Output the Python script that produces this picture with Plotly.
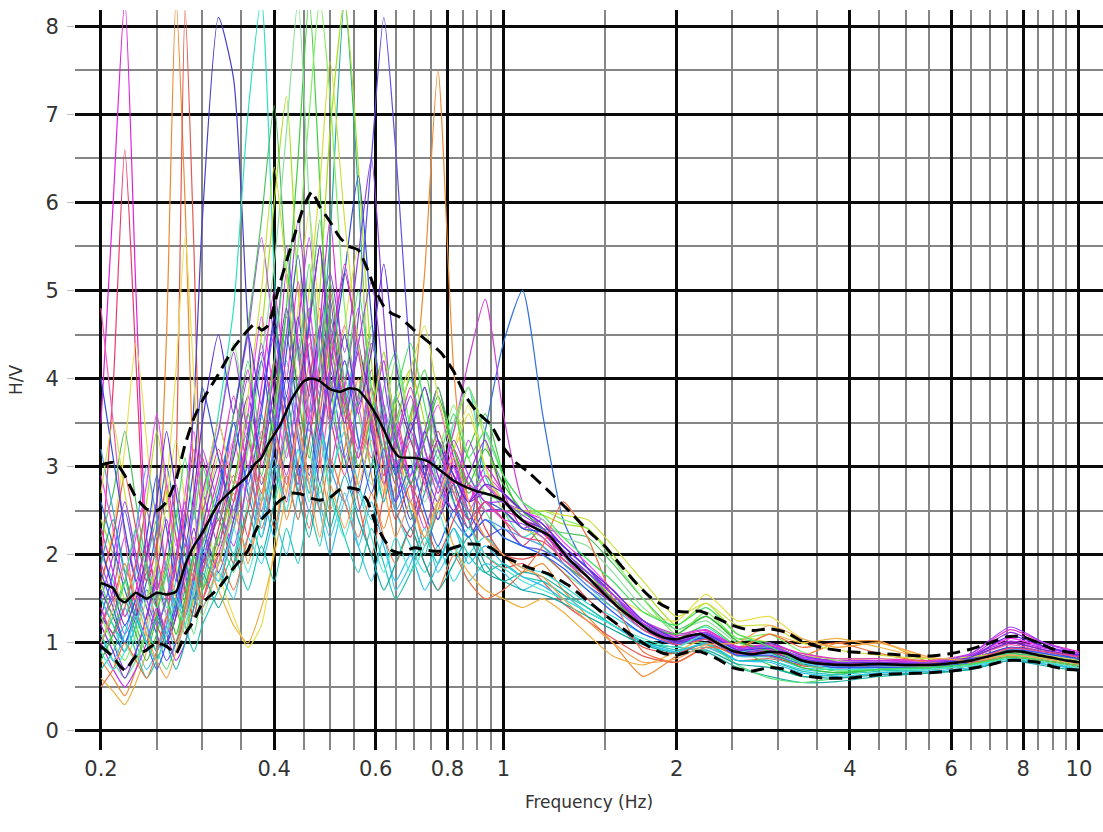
import plotly.graph_objects as go

# ---------------- H/V curves of the individual time windows ----------------
freq_win = [0.20, 0.21, 0.22, 0.23, 0.24, 0.25, 0.26, 0.27, 0.28, 0.29, 0.30,
            0.32, 0.34, 0.36, 0.38, 0.40, 0.42, 0.44, 0.46, 0.48, 0.50,
            0.53, 0.56, 0.59, 0.62, 0.65, 0.69, 0.73, 0.77, 0.82, 0.87, 0.93, 1.0,
            1.08, 1.17, 1.27, 1.4, 1.55, 1.75, 2.0,
            2.25, 2.55, 2.9, 3.3, 3.8, 4.5, 5.5, 6.5, 7.6, 8.7, 10.0]

win01 = [3.5, 6.0, 8.3, 5.0, 2.2, 1.6, 1.9, 1.4, 1.8, 2.6, 3.1, 2.4, 3.3, 4.1, 3.0, 3.6, 5.2, 4.4, 3.5, 4.6, 5.8, 3.9, 3.2, 4.1, 3.0, 2.6, 3.4, 2.9, 2.4, 3.1, 2.6, 3.0, 2.7, 2.3, 2.4, 2.0, 1.8, 1.55, 1.2, 1.05, 1.12, 0.92, 0.95, 0.82, 0.78, 0.8, 0.78, 0.84, 1.0, 0.92, 0.85]
win02 = [1.8, 3.9, 6.6, 4.2, 1.9, 1.2, 1.0, 1.3, 2.1, 1.7, 1.5, 2.3, 2.9, 2.2, 3.1, 4.0, 3.4, 2.8, 3.9, 4.8, 3.6, 2.9, 3.8, 4.5, 3.3, 2.5, 2.2, 2.9, 3.4, 2.8, 2.3, 2.6, 2.4, 2.1, 2.3, 1.9, 1.7, 1.45, 1.15, 1.0, 1.05, 0.88, 0.9, 0.78, 0.74, 0.75, 0.74, 0.8, 0.92, 0.86, 0.8]
win03 = [0.8, 0.6, 0.4, 0.7, 1.2, 2.0, 4.5, 8.3, 6.0, 2.8, 1.6, 2.1, 2.7, 1.9, 2.6, 3.3, 2.4, 3.0, 4.2, 3.1, 2.5, 3.2, 4.0, 2.9, 2.3, 2.8, 3.5, 5.2, 7.5, 4.1, 2.6, 2.2, 2.0, 1.8, 1.9, 1.6, 1.3, 1.0, 0.62, 0.85, 1.0, 0.85, 0.9, 0.85, 1.0, 1.02, 0.78, 0.76, 0.86, 0.82, 0.76]
win04 = [1.2, 1.5, 1.9, 1.4, 1.0, 0.8, 1.2, 3.0, 8.2, 5.5, 2.5, 1.6, 2.4, 3.0, 2.3, 2.9, 3.8, 2.9, 2.3, 3.1, 4.3, 3.6, 2.6, 2.0, 2.7, 3.6, 2.8, 2.1, 2.5, 3.0, 2.4, 2.0, 1.85, 1.9, 1.7, 1.45, 1.25, 1.05, 0.85, 0.78, 0.95, 0.8, 0.82, 0.75, 0.72, 0.72, 0.7, 0.74, 0.82, 0.78, 0.72]
win05 = [1.3, 1.1, 0.9, 1.2, 1.6, 1.4, 1.1, 1.5, 2.4, 3.7, 5.8, 8.1, 7.4, 4.6, 2.8, 3.4, 4.5, 3.6, 2.9, 3.8, 4.9, 3.4, 2.7, 3.5, 4.2, 3.1, 2.4, 2.9, 3.3, 2.6, 2.2, 2.5, 2.5, 2.3, 2.2, 1.95, 1.75, 1.5, 1.2, 1.02, 1.1, 0.9, 0.92, 0.8, 0.75, 0.74, 0.74, 0.8, 0.9, 0.85, 0.78]
win06 = [2.0, 1.7, 1.3, 1.8, 2.5, 1.9, 1.4, 1.7, 2.2, 1.8, 2.4, 3.6, 4.8, 7.0, 8.3, 5.2, 3.1, 3.9, 4.8, 3.5, 2.8, 3.7, 4.4, 3.2, 2.6, 3.4, 4.0, 3.2, 2.7, 3.5, 3.9, 2.9, 2.5, 2.2, 2.3, 2.0, 1.7, 1.5, 1.25, 1.08, 1.18, 0.95, 0.96, 0.84, 0.8, 0.78, 0.78, 0.82, 0.94, 0.88, 0.82]
win07 = [1.0, 1.3, 1.7, 1.2, 0.9, 1.3, 1.8, 1.4, 1.1, 1.6, 2.2, 1.9, 2.8, 3.4, 2.6, 3.5, 4.8, 6.5, 8.3, 6.2, 4.0, 3.0, 3.8, 4.6, 3.5, 2.8, 3.6, 4.1, 3.3, 2.7, 3.2, 3.6, 2.9, 2.4, 2.1, 1.9, 1.7, 1.45, 1.25, 1.05, 1.2, 0.95, 0.75, 0.62, 0.64, 0.7, 0.74, 0.78, 0.86, 0.8, 0.74]
win08 = [1.5, 1.2, 1.0, 1.4, 1.9, 2.4, 1.8, 1.3, 1.6, 2.0, 1.7, 2.5, 2.0, 2.9, 3.6, 2.8, 3.4, 4.4, 3.6, 4.2, 5.6, 8.3, 6.1, 3.5, 2.6, 3.1, 2.5, 2.0, 2.6, 3.0, 2.4, 1.9, 1.7, 1.8, 1.75, 1.6, 1.4, 1.2, 1.0, 0.95, 0.9, 0.72, 0.62, 0.55, 0.56, 0.62, 0.66, 0.7, 0.8, 0.76, 0.7]
win09 = [2.4, 2.0, 1.5, 1.9, 2.6, 3.4, 2.7, 1.9, 1.4, 1.8, 2.3, 3.1, 2.3, 3.2, 4.5, 6.0, 7.2, 5.0, 3.8, 5.0, 6.8, 8.3, 6.4, 4.2, 3.1, 3.7, 4.1, 3.5, 2.8, 3.4, 3.9, 3.3, 2.7, 2.5, 2.45, 2.35, 2.3, 2.0, 1.6, 1.2, 1.45, 1.1, 1.0, 0.86, 0.82, 0.82, 0.8, 0.84, 0.92, 0.86, 0.8]
win10 = [1.6, 2.3, 3.2, 4.4, 3.3, 2.2, 2.8, 4.1, 5.6, 4.0, 2.6, 1.8, 1.3, 0.95, 1.2, 2.1, 3.5, 4.8, 5.9, 4.6, 3.5, 4.6, 5.5, 3.8, 2.9, 3.3, 3.9, 3.0, 2.5, 3.2, 3.7, 3.0, 2.5, 2.3, 2.2, 1.95, 1.75, 1.55, 1.35, 1.25, 1.55, 1.25, 1.3, 1.05, 0.95, 1.0, 0.82, 0.82, 0.88, 0.83, 0.77]
win11 = [1.4, 1.0, 0.7, 0.9, 1.3, 1.7, 1.3, 1.0, 1.4, 2.0, 2.7, 2.1, 3.2, 4.0, 3.1, 4.2, 5.5, 4.3, 3.4, 4.5, 5.2, 4.3, 5.4, 6.5, 4.7, 3.3, 2.9, 3.4, 3.9, 3.1, 2.6, 2.9, 2.6, 2.4, 2.25, 2.0, 1.8, 1.55, 1.2, 1.02, 1.08, 0.9, 0.9, 0.8, 0.77, 0.77, 0.76, 0.82, 0.95, 0.9, 0.82]
win12 = [2.6, 2.1, 1.6, 1.3, 1.7, 2.3, 3.0, 2.4, 1.8, 1.4, 1.9, 2.6, 3.5, 2.7, 2.2, 2.9, 3.8, 3.0, 2.5, 3.3, 4.0, 3.1, 2.5, 3.0, 3.7, 2.9, 2.3, 2.7, 3.2, 2.6, 2.3, 3.4, 4.4, 5.0, 3.6, 2.4, 1.85, 1.55, 1.25, 1.05, 1.12, 0.92, 0.95, 0.82, 0.76, 0.74, 0.75, 0.8, 0.9, 0.86, 0.8]
win13 = [1.2, 1.6, 2.2, 1.7, 1.2, 0.9, 1.3, 1.9, 2.5, 1.9, 1.5, 2.0, 2.6, 3.3, 2.5, 3.1, 2.6, 3.5, 4.4, 3.6, 3.0, 3.9, 4.8, 3.6, 2.9, 3.5, 2.8, 2.3, 2.8, 3.4, 4.2, 4.9, 3.6, 2.6, 2.3, 2.05, 1.8, 1.55, 1.25, 1.1, 1.15, 0.95, 0.95, 0.84, 0.8, 0.8, 0.8, 0.86, 1.05, 0.95, 0.88]
win14 = [0.9, 1.1, 1.4, 1.0, 0.7, 0.9, 1.2, 0.9, 1.3, 1.7, 1.4, 1.8, 1.5, 2.2, 1.9, 2.4, 2.0, 2.7, 3.3, 2.6, 2.2, 2.7, 2.1, 1.7, 2.2, 1.6, 1.9, 2.3, 1.8, 2.1, 1.7, 1.9, 1.8, 1.6, 1.7, 1.55, 1.35, 1.2, 1.0, 0.9, 0.95, 0.8, 0.8, 0.7, 0.66, 0.7, 0.72, 0.74, 0.82, 0.78, 0.72]
win15 = [1.1, 0.8, 0.6, 0.8, 1.1, 0.9, 0.7, 1.0, 1.4, 1.1, 1.6, 2.2, 1.8, 2.6, 3.3, 2.6, 3.2, 4.0, 3.2, 2.7, 3.4, 4.5, 3.6, 3.0, 3.9, 4.3, 3.4, 2.7, 3.1, 2.6, 2.9, 2.5, 2.2, 2.1, 2.0, 1.8, 1.6, 1.4, 1.2, 1.0, 1.0, 0.75, 0.6, 0.55, 0.6, 0.66, 0.7, 0.74, 0.84, 0.8, 0.74]
win16 = [1.9, 1.5, 1.1, 1.4, 1.9, 1.5, 1.1, 1.4, 1.9, 2.5, 3.2, 2.6, 3.6, 4.5, 5.6, 4.4, 3.3, 2.8, 3.6, 4.5, 3.7, 3.1, 3.7, 4.5, 3.6, 3.0, 2.6, 3.1, 2.8, 2.5, 2.8, 2.6, 2.4, 2.35, 2.2, 1.95, 1.75, 1.5, 1.2, 1.03, 1.07, 0.92, 0.92, 0.8, 0.76, 0.76, 0.75, 0.82, 0.94, 0.88, 0.8]
win17 = [1.3, 1.8, 2.5, 1.9, 1.4, 1.1, 0.8, 1.0, 1.3, 1.8, 2.3, 1.8, 2.4, 3.0, 2.4, 3.2, 4.0, 3.3, 2.7, 3.4, 4.1, 3.5, 4.7, 6.5, 8.1, 6.6, 4.2, 3.0, 2.6, 3.0, 2.5, 2.2, 2.3, 2.1, 2.05, 1.9, 1.65, 1.45, 1.15, 1.0, 1.05, 0.88, 0.9, 0.78, 0.74, 0.74, 0.74, 0.8, 0.9, 0.85, 0.78]
win18 = [4.8, 3.5, 2.2, 1.5, 1.9, 2.6, 1.8, 1.3, 1.7, 2.2, 1.8, 2.6, 3.3, 2.6, 3.4, 2.8, 3.6, 4.5, 3.6, 3.0, 3.8, 4.6, 3.7, 3.1, 3.6, 3.0, 3.5, 2.8, 2.4, 2.9, 2.5, 2.8, 2.6, 2.4, 2.3, 2.0, 1.75, 1.5, 1.2, 1.05, 1.1, 0.92, 0.93, 0.82, 0.78, 0.78, 0.77, 0.84, 0.98, 0.9, 0.84]
win19 = [1.5, 1.2, 0.9, 1.2, 1.6, 1.2, 1.5, 2.0, 1.6, 1.3, 1.8, 2.4, 2.0, 2.8, 2.2, 3.0, 2.5, 3.2, 2.7, 3.5, 2.9, 3.4, 2.8, 2.4, 3.0, 2.5, 2.1, 1.8, 2.1, 1.7, 2.0, 2.2, 2.0, 1.85, 1.8, 1.65, 1.45, 1.3, 1.1, 0.98, 1.05, 0.85, 0.84, 0.72, 0.7, 0.72, 0.73, 0.78, 0.88, 0.82, 0.76]
win20 = [0.6, 0.45, 0.3, 0.55, 0.9, 1.4, 2.0, 1.5, 1.1, 1.5, 2.0, 1.6, 1.2, 1.0, 1.4, 2.0, 2.7, 3.4, 2.8, 3.6, 4.4, 3.4, 2.8, 3.3, 2.7, 3.2, 2.6, 2.2, 2.6, 2.1, 1.8, 1.6, 1.5, 1.4, 1.5, 1.35, 1.1, 0.85, 0.75, 0.9, 1.05, 0.95, 1.1, 1.0, 1.05, 0.95, 0.82, 0.8, 0.86, 0.8, 0.74]
win21 = [2.2, 2.7, 3.4, 2.6, 1.9, 1.5, 1.9, 2.5, 2.0, 1.6, 2.1, 2.8, 3.6, 4.6, 5.8, 7.1, 5.2, 3.9, 4.7, 5.8, 4.5, 3.6, 4.3, 3.5, 2.9, 3.5, 4.0, 3.3, 3.9, 3.2, 2.7, 2.9, 2.6, 2.4, 2.3, 2.25, 2.2, 1.9, 1.5, 1.15, 1.3, 1.05, 1.0, 0.82, 0.76, 0.76, 0.76, 0.8, 0.88, 0.84, 0.78]
win22 = [1.0, 0.7, 0.5, 0.7, 1.0, 1.4, 1.1, 0.8, 1.0, 1.4, 1.9, 2.5, 2.1, 2.9, 3.7, 4.5, 3.6, 4.6, 5.6, 4.3, 3.5, 4.2, 3.6, 4.4, 3.7, 3.0, 3.4, 3.9, 3.2, 2.8, 3.3, 2.8, 2.6, 2.5, 2.35, 2.1, 1.85, 1.6, 1.25, 1.05, 1.12, 0.95, 0.97, 0.84, 0.8, 0.8, 0.78, 0.86, 1.02, 0.94, 0.86]
win23 = [3.2, 2.5, 1.8, 2.3, 3.0, 2.4, 1.8, 1.4, 1.9, 2.5, 2.0, 1.7, 2.3, 3.0, 2.4, 3.3, 4.2, 3.4, 2.8, 3.5, 3.0, 2.6, 3.2, 3.9, 3.1, 2.5, 2.9, 3.4, 2.8, 2.4, 2.2, 2.4, 2.3, 2.2, 2.1, 1.9, 1.65, 1.4, 1.15, 1.0, 1.05, 0.86, 0.88, 0.76, 0.72, 0.73, 0.73, 0.78, 0.9, 0.86, 0.8]
win24 = [1.7, 2.2, 2.9, 2.3, 1.7, 2.1, 2.8, 2.2, 1.6, 1.3, 1.8, 2.4, 1.9, 2.5, 3.3, 4.2, 3.4, 2.7, 3.3, 4.1, 5.0, 3.8, 3.1, 3.7, 3.0, 2.4, 2.8, 2.4, 2.0, 2.4, 2.8, 2.3, 2.0, 1.95, 2.0, 1.8, 1.5, 1.25, 0.95, 0.88, 1.0, 0.86, 0.85, 0.74, 0.72, 0.74, 0.74, 0.78, 0.84, 0.8, 0.74]
win25 = [1.3, 1.0, 0.8, 1.1, 1.5, 1.9, 1.5, 1.1, 1.5, 2.0, 2.6, 3.4, 4.4, 3.4, 2.7, 3.6, 4.5, 5.5, 7.0, 8.3, 7.2, 4.8, 3.7, 4.5, 3.6, 4.2, 3.5, 3.9, 3.2, 3.7, 3.1, 2.7, 2.6, 2.45, 2.5, 2.4, 2.3, 1.95, 1.5, 1.1, 1.35, 1.05, 1.1, 0.9, 0.8, 0.76, 0.76, 0.8, 0.86, 0.82, 0.76]
win26 = [1.6, 1.3, 1.0, 1.3, 1.8, 1.4, 1.0, 1.3, 1.8, 2.3, 1.9, 2.5, 3.1, 3.8, 3.1, 3.9, 4.8, 3.9, 4.6, 5.5, 4.4, 5.2, 4.4, 3.7, 3.2, 3.8, 3.3, 2.9, 3.3, 2.9, 2.6, 2.7, 2.6, 2.4, 2.3, 2.05, 1.8, 1.55, 1.2, 1.02, 1.08, 0.92, 0.94, 0.8, 0.76, 0.76, 0.76, 0.84, 1.0, 0.92, 0.84]
win27 = [0.7, 0.9, 1.2, 0.9, 0.6, 0.8, 1.1, 1.5, 1.2, 0.9, 1.2, 1.6, 2.0, 1.6, 2.1, 1.7, 2.3, 1.9, 2.5, 2.1, 2.7, 2.2, 1.8, 2.3, 1.9, 1.5, 1.8, 2.2, 1.9, 2.3, 2.0, 1.8, 1.9, 1.75, 1.7, 1.55, 1.4, 1.2, 1.02, 0.92, 0.98, 0.8, 0.8, 0.68, 0.64, 0.68, 0.7, 0.74, 0.82, 0.78, 0.7]
win28 = [2.9, 2.3, 1.7, 2.2, 2.8, 3.6, 2.8, 2.1, 2.7, 3.4, 2.7, 3.5, 2.8, 3.6, 4.7, 3.8, 3.1, 3.9, 4.8, 3.9, 4.7, 3.8, 3.1, 3.6, 4.2, 3.5, 2.9, 3.3, 3.7, 3.0, 2.6, 2.9, 2.7, 2.5, 2.4, 2.15, 1.9, 1.6, 1.25, 1.06, 1.1, 0.92, 0.95, 0.82, 0.78, 0.78, 0.78, 0.86, 1.05, 0.96, 0.88]
win29 = [1.0, 1.3, 1.0, 0.8, 1.1, 1.6, 1.3, 1.0, 1.2, 1.6, 1.3, 1.9, 2.5, 3.2, 4.2, 5.3, 6.8, 8.3, 6.0, 4.2, 3.4, 4.0, 3.3, 2.8, 3.3, 3.8, 3.1, 2.6, 3.0, 3.5, 3.9, 3.4, 2.9, 2.6, 2.4, 2.2, 2.1, 1.8, 1.4, 1.15, 1.25, 1.0, 0.95, 0.8, 0.74, 0.74, 0.74, 0.78, 0.86, 0.82, 0.76]
win30 = [4.0, 3.1, 2.3, 1.7, 2.2, 2.9, 2.3, 1.7, 2.3, 3.0, 3.9, 3.1, 2.5, 3.3, 4.2, 3.3, 4.3, 5.4, 4.2, 3.4, 4.1, 5.2, 6.3, 4.7, 3.5, 2.9, 3.5, 2.9, 2.4, 2.8, 2.4, 2.6, 2.5, 2.3, 2.25, 2.0, 1.75, 1.5, 1.2, 1.0, 1.06, 0.88, 0.9, 0.78, 0.74, 0.74, 0.75, 0.82, 0.95, 0.9, 0.82]
win31 = [1.2, 0.9, 0.6, 0.9, 1.3, 1.8, 2.4, 1.8, 1.3, 1.7, 2.3, 3.0, 2.4, 3.4, 4.3, 3.5, 2.9, 3.6, 4.6, 5.5, 4.3, 3.5, 4.3, 3.4, 2.8, 3.3, 2.8, 3.4, 2.9, 2.5, 2.9, 3.3, 2.7, 2.5, 2.3, 2.1, 1.85, 1.55, 1.2, 1.0, 1.1, 0.9, 1.0, 0.86, 0.78, 0.76, 0.78, 0.86, 1.12, 0.96, 0.86]
win32 = [1.8, 1.4, 1.0, 1.3, 1.0, 0.7, 1.0, 1.4, 1.9, 1.5, 2.0, 2.7, 3.5, 2.8, 3.6, 4.6, 3.6, 2.9, 3.5, 2.8, 3.4, 4.2, 3.3, 2.7, 3.2, 2.6, 3.0, 2.5, 2.1, 2.5, 2.2, 2.4, 2.2, 2.1, 2.0, 1.85, 1.6, 1.35, 1.1, 0.98, 1.04, 0.86, 0.86, 0.76, 0.72, 0.72, 0.72, 0.78, 0.92, 0.88, 0.8]
win33 = [2.3, 1.8, 1.3, 1.6, 2.1, 1.6, 2.1, 2.8, 2.2, 1.7, 2.2, 2.9, 3.8, 3.0, 3.9, 5.0, 4.0, 5.1, 4.1, 3.3, 4.1, 5.3, 4.3, 3.5, 2.9, 3.3, 3.9, 3.2, 2.7, 3.2, 2.8, 2.5, 2.5, 2.4, 2.25, 2.0, 1.75, 1.5, 1.22, 1.08, 1.14, 0.96, 0.98, 0.88, 0.82, 0.82, 0.8, 0.88, 1.15, 1.0, 0.9]
win34 = [1.1, 0.8, 1.1, 1.5, 1.2, 0.9, 1.2, 1.6, 1.3, 1.7, 1.4, 1.9, 2.5, 2.0, 2.7, 2.2, 2.9, 2.4, 3.0, 2.5, 2.0, 2.6, 2.1, 2.6, 2.1, 1.7, 2.0, 1.6, 1.9, 2.3, 1.9, 2.1, 1.9, 1.75, 1.65, 1.5, 1.35, 1.2, 1.0, 0.9, 1.0, 0.8, 0.78, 0.66, 0.62, 0.66, 0.68, 0.72, 0.8, 0.76, 0.7]
win35 = [0.8, 1.1, 1.5, 1.1, 0.8, 1.1, 1.5, 1.1, 1.5, 2.0, 1.6, 2.2, 2.8, 3.6, 2.9, 3.7, 4.7, 3.8, 3.1, 3.8, 4.7, 3.8, 3.0, 3.6, 4.3, 3.4, 2.8, 3.3, 3.8, 3.2, 2.8, 3.2, 2.8, 2.5, 2.3, 2.05, 1.8, 1.5, 1.2, 1.1, 1.3, 1.02, 0.9, 0.72, 0.66, 0.7, 0.72, 0.76, 0.84, 0.8, 0.74]
win36 = [0.5, 0.7, 1.0, 0.8, 0.6, 0.9, 1.3, 1.0, 1.4, 1.9, 1.5, 2.0, 1.6, 2.2, 2.9, 2.3, 2.9, 2.4, 3.0, 2.5, 3.1, 2.6, 2.2, 2.7, 2.2, 1.9, 2.3, 1.9, 1.6, 2.0, 1.7, 1.5, 1.6, 1.8, 2.1, 2.6, 2.2, 1.5, 0.9, 0.78, 0.95, 0.92, 1.1, 0.95, 1.0, 0.88, 0.78, 0.78, 0.84, 0.8, 0.74]
win37 = [2.7, 3.5, 2.7, 2.0, 1.5, 1.9, 2.6, 3.3, 2.6, 2.0, 2.6, 3.5, 2.8, 3.8, 5.0, 6.4, 5.2, 4.0, 5.0, 6.2, 7.6, 5.8, 4.4, 3.6, 4.3, 3.5, 4.1, 4.6, 3.8, 3.2, 3.6, 3.0, 2.6, 2.5, 2.5, 2.45, 2.4, 2.1, 1.7, 1.3, 1.45, 1.2, 1.2, 1.0, 0.92, 0.86, 0.82, 0.84, 0.9, 0.86, 0.8]
win38 = [1.5, 2.0, 2.6, 2.0, 1.5, 1.2, 1.5, 2.0, 2.6, 2.1, 2.7, 3.4, 4.3, 3.4, 4.4, 3.5, 4.5, 5.8, 4.6, 3.8, 4.6, 3.7, 4.4, 5.1, 4.0, 3.3, 3.8, 3.2, 2.8, 3.3, 2.9, 2.6, 2.6, 2.45, 2.3, 2.05, 1.8, 1.55, 1.22, 1.04, 1.1, 0.94, 0.96, 0.84, 0.78, 0.78, 0.78, 0.88, 1.18, 1.0, 0.88]
win39 = [1.9, 2.4, 1.8, 1.3, 1.0, 1.3, 1.0, 0.7, 1.0, 1.4, 1.8, 1.4, 1.9, 2.5, 2.0, 2.6, 3.4, 2.7, 2.2, 2.8, 2.3, 2.9, 2.4, 2.0, 1.6, 1.9, 2.3, 1.9, 1.6, 1.9, 2.2, 1.8, 1.7, 1.6, 1.55, 1.45, 1.3, 1.15, 0.98, 0.88, 0.92, 0.76, 0.72, 0.62, 0.6, 0.64, 0.66, 0.7, 0.8, 0.74, 0.68]
win40 = [1.4, 1.1, 1.4, 1.9, 2.5, 2.0, 1.5, 1.9, 2.5, 3.2, 2.5, 3.2, 2.6, 3.3, 2.7, 3.4, 2.8, 3.6, 4.5, 3.6, 4.5, 3.7, 3.1, 3.9, 3.3, 2.8, 3.3, 2.8, 3.3, 2.7, 2.4, 2.6, 2.4, 2.2, 2.15, 1.95, 1.7, 1.45, 1.15, 0.98, 1.04, 0.88, 0.9, 0.8, 0.76, 0.78, 0.76, 0.8, 0.94, 0.9, 0.84]
win41 = [0.9, 0.7, 0.9, 1.3, 1.0, 0.8, 1.1, 1.5, 1.2, 1.6, 2.1, 1.7, 2.3, 1.8, 2.4, 3.1, 2.5, 3.2, 2.6, 3.3, 2.7, 2.2, 2.7, 2.2, 1.8, 2.2, 1.8, 2.1, 2.5, 2.0, 2.3, 2.0, 1.85, 1.7, 1.6, 1.5, 1.35, 1.2, 1.05, 0.95, 1.1, 0.9, 0.95, 0.78, 0.7, 0.7, 0.7, 0.74, 0.82, 0.78, 0.72]
win42 = [2.1, 1.6, 1.2, 1.5, 2.0, 2.6, 3.4, 2.7, 2.1, 2.7, 3.5, 4.5, 3.6, 4.5, 3.7, 4.7, 3.8, 4.7, 3.8, 4.6, 3.7, 4.5, 3.7, 4.3, 5.3, 4.2, 3.4, 3.9, 3.3, 2.9, 2.6, 2.8, 2.7, 2.5, 2.35, 2.1, 1.85, 1.6, 1.25, 1.05, 1.1, 0.92, 0.94, 0.82, 0.77, 0.78, 0.76, 0.84, 1.08, 0.96, 0.86]
win43 = [1.0, 1.4, 1.9, 1.5, 1.1, 0.8, 0.6, 0.9, 1.3, 1.8, 1.4, 1.9, 2.5, 2.0, 2.6, 3.4, 2.7, 3.5, 2.8, 2.2, 2.8, 2.3, 2.9, 3.6, 2.8, 2.2, 2.6, 2.2, 2.6, 3.1, 2.6, 2.2, 2.0, 1.85, 1.75, 1.5, 1.25, 1.0, 0.78, 0.82, 0.98, 1.0, 1.2, 1.05, 0.95, 1.0, 0.84, 0.8, 0.86, 0.82, 0.76]
win44 = [1.7, 1.3, 1.7, 2.3, 1.8, 1.4, 1.8, 2.4, 3.1, 2.4, 3.0, 2.4, 3.2, 4.2, 3.3, 4.2, 5.4, 4.2, 5.3, 4.2, 5.1, 4.0, 5.0, 3.9, 3.2, 3.8, 4.4, 3.7, 3.1, 3.6, 3.1, 3.4, 2.9, 2.6, 2.45, 2.2, 1.95, 1.7, 1.35, 1.2, 1.4, 1.1, 0.96, 0.76, 0.68, 0.7, 0.72, 0.76, 0.84, 0.8, 0.74]

windows = [win01, win02, win03, win04, win05, win06, win07, win08, win09, win10,
           win11, win12, win13, win14, win15, win16, win17, win18, win19, win20,
           win21, win22, win23, win24, win25, win26, win27, win28, win29, win30,
           win31, win32, win33, win34, win35, win36, win37, win38, win39, win40,
           win41, win42, win43, win44]

window_colors = ["#e020e0", "#e83a6a", "#f08a30", "#e05a50", "#4a40c8", "#30e0c0",
                 "#40d040", "#20b0a0", "#a8e020", "#e8e050", "#9040e0", "#3070e0",
                 "#d040d0", "#40c8e8", "#60e080", "#b050f0", "#6050e8", "#f060b0",
                 "#30d8d8", "#f0b040", "#50c060", "#c030f0", "#50a0f0", "#e04848",
                 "#80f060", "#7030c0", "#20c8b0", "#ff40ff", "#90e0a0", "#3050d8",
                 "#8a2be2", "#2a5cff", "#ee30c8", "#28c0f0", "#30c030", "#f07040",
                 "#d0e040", "#a040ff", "#10a8a0", "#f04880", "#48e8d0", "#5a30e0",
                 "#f8a050", "#40e060"]

# ---------------- average H/V and standard deviation curves ----------------
freq_avg = [0.20, 0.21, 0.215, 0.22, 0.23, 0.24, 0.25, 0.26, 0.27, 0.28,
            0.29, 0.30, 0.32, 0.34, 0.36, 0.37, 0.38, 0.39, 0.41, 0.43,
            0.45, 0.465, 0.48, 0.50, 0.52, 0.54, 0.56, 0.58, 0.60, 0.62,
            0.64, 0.66, 0.70, 0.74, 0.78, 0.82, 0.86, 0.90, 0.95, 1.0,
            1.05, 1.1, 1.2, 1.3, 1.4, 1.5, 1.6, 1.7, 1.8, 1.9,
            2.0, 2.1, 2.2, 2.35, 2.5, 2.7, 2.9, 3.1, 3.3, 3.6,
            4.0, 4.5, 5.0, 5.5, 6.0, 6.5, 7.0, 7.5, 8.0, 8.5,
            9.0, 9.5, 10.0]

hv_mean = [1.68, 1.62, 1.50, 1.46, 1.57, 1.50, 1.57, 1.55, 1.58, 1.88,
           2.10, 2.25, 2.58, 2.75, 2.90, 3.03, 3.10, 3.25, 3.48, 3.78,
           3.97, 4.00, 3.97, 3.88, 3.85, 3.89, 3.87, 3.75, 3.60, 3.42,
           3.22, 3.11, 3.10, 3.06, 2.95, 2.84, 2.77, 2.72, 2.68, 2.62,
           2.46, 2.35, 2.22, 1.95, 1.75, 1.55, 1.38, 1.25, 1.13, 1.06,
           1.04, 1.08, 1.10, 1.00, 0.91, 0.87, 0.90, 0.88, 0.80, 0.76,
           0.75, 0.76, 0.75, 0.75, 0.77, 0.80, 0.85, 0.90, 0.90, 0.86,
           0.83, 0.80, 0.78]

hv_upper = [3.02, 3.05, 3.00, 2.90, 2.65, 2.52, 2.50, 2.60, 2.85, 3.25,
            3.55, 3.75, 4.05, 4.35, 4.55, 4.62, 4.55, 4.60, 5.10, 5.55,
            5.95, 6.12, 5.95, 5.78, 5.60, 5.50, 5.46, 5.25, 5.00, 4.82,
            4.74, 4.70, 4.55, 4.42, 4.29, 4.08, 3.80, 3.62, 3.48, 3.22,
            3.05, 2.95, 2.72, 2.50, 2.28, 2.10, 1.88, 1.68, 1.52, 1.42,
            1.36, 1.35, 1.36, 1.28, 1.20, 1.14, 1.16, 1.12, 1.02, 0.94,
            0.90, 0.88, 0.86, 0.85, 0.88, 0.93, 1.00, 1.07, 1.07, 1.00,
            0.93, 0.90, 0.88]

hv_lower = [0.96, 0.84, 0.75, 0.69, 0.85, 0.92, 1.00, 0.96, 0.88, 1.10,
            1.25, 1.45, 1.62, 1.85, 2.05, 2.25, 2.40, 2.48, 2.62, 2.70,
            2.68, 2.64, 2.62, 2.65, 2.74, 2.76, 2.74, 2.62, 2.35, 2.18,
            2.05, 2.02, 2.08, 2.05, 2.04, 2.08, 2.12, 2.12, 2.08, 1.98,
            1.92, 1.86, 1.78, 1.65, 1.48, 1.32, 1.18, 1.05, 0.95, 0.88,
            0.86, 0.90, 0.90, 0.82, 0.72, 0.68, 0.72, 0.70, 0.63, 0.60,
            0.60, 0.64, 0.65, 0.66, 0.68, 0.71, 0.75, 0.80, 0.80, 0.78,
            0.73, 0.70, 0.69]

# ---------------- axis ticks and grid ----------------
x_major = [0.2, 0.4, 0.6, 0.8, 1, 2, 4, 6, 8, 10]
x_labels = ["0.2", "0.4", "0.6", "0.8", "1", "2", "4", "6", "8", "10"]
x_minor = [0.25, 0.3, 0.35, 0.45, 0.5, 0.55, 0.65, 0.7, 0.75, 0.85, 0.9, 0.95,
           1.5, 2.5, 3, 3.5, 4.5, 5, 5.5, 6.5, 7, 7.5, 8.5, 9, 9.5]
y_major = [0, 1, 2, 3, 4, 5, 6, 7, 8]
y_minor = [0.5, 1.5, 2.5, 3.5, 4.5, 5.5, 6.5, 7.5]

fig = go.Figure()

for vals, col in zip(windows, window_colors):
    fig.add_trace(go.Scatter(
        x=freq_win, y=vals, mode="lines",
        line=dict(color=col, width=1.2, shape="spline", smoothing=0.6),
        hoverinfo="skip", showlegend=False))

for vals in (hv_upper, hv_lower):
    fig.add_trace(go.Scatter(
        x=freq_avg, y=vals, mode="lines",
        line=dict(color="black", width=3, dash="13px,7px", shape="spline", smoothing=0.5),
        showlegend=False))

fig.add_trace(go.Scatter(
    x=freq_avg, y=hv_mean, mode="lines",
    line=dict(color="black", width=2.5, shape="spline", smoothing=0.5),
    showlegend=False))

tick_font = dict(family="DejaVu Sans, Verdana, sans-serif", size=21, color="#333333")
title_font = dict(family="DejaVu Sans, Verdana, sans-serif", size=17, color="#333333")

fig.update_layout(
    width=1103, height=832,
    margin=dict(l=75, r=0, t=10, b=82),
    paper_bgcolor="white", plot_bgcolor="white",
    xaxis=dict(
        type="log", range=[-0.7441, 1.0418],
        tickmode="array", tickvals=x_major, ticktext=x_labels,
        showgrid=True, gridcolor="#0a0a0a", gridwidth=3,
        ticks="", tickfont=tick_font, ticklabelstandoff=4,
        showline=False, zeroline=False,
        minor=dict(tickmode="array", tickvals=x_minor, showgrid=True,
                   gridcolor="#858585", gridwidth=2, ticks=""),
        title=dict(text="Frequency (Hz)", font=title_font, standoff=16),
    ),
    yaxis=dict(
        range=[-0.216, 8.184],
        tickmode="array", tickvals=y_major,
        showgrid=True, gridcolor="#0a0a0a", gridwidth=3,
        ticks="outside", ticklen=7, tickcolor="#bbbbbb", tickwidth=1,
        tickfont=tick_font, ticklabelstandoff=4,
        showline=False, zeroline=False,
        minor=dict(tickmode="array", tickvals=y_minor, showgrid=True,
                   gridcolor="#858585", gridwidth=2, ticks=""),
        title=dict(text="H/V", font=title_font, standoff=18),
    ),
)

fig.write_html("out.html")
